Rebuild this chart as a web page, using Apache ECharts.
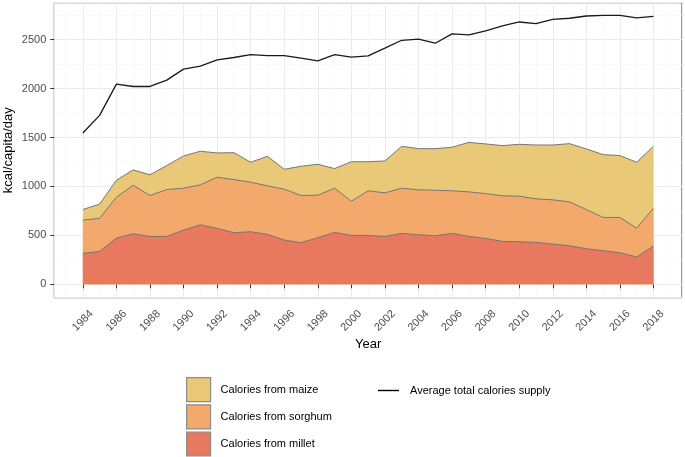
<!DOCTYPE html>
<html>
<head>
<meta charset="utf-8">
<script src="https://cdn.jsdelivr.net/npm/echarts@6/dist/echarts.min.js"></script>
<style>
html,body{margin:0;padding:0;background:#fff;}
#chart{width:685px;height:457px;}
</style>
</head>
<body>
<div id="chart"></div>
<script>
const years = [1984,1985,1986,1987,1988,1989,1990,1991,1992,1993,1994,1995,1996,1997,1998,1999,2000,2001,2002,2003,2004,2005,2006,2007,2008,2009,2010,2011,2012,2013,2014,2015,2016,2017,2018];
const millet = [316,336,472,516,489,489,554,608,571,527,537,510,452,425,476,530,499,499,489,520,506,496,520,489,469,438,435,428,411,394,363,343,323,279,391];
const sorghum = [340,337,418,496,418,479,428,408,523,543,506,496,520,482,434,452,350,456,445,462,459,465,435,455,458,466,465,445,452,448,401,340,360,295,387];
const maize = [108,146,173,157,211,245,329,343,248,275,204,302,203,299,316,200,403,297,326,428,421,425,445,506,507,513,530,550,560,595,619,642,632,673,632];
const totalSupply = [1546,1726,2045,2021,2021,2086,2198,2228,2293,2317,2347,2337,2337,2310,2283,2347,2320,2334,2412,2493,2504,2463,2558,2548,2589,2640,2680,2663,2707,2718,2741,2748,2748,2721,2738];

const names = {
  maize: 'Calories from maize',
  sorghum: 'Calories from sorghum',
  millet: 'Calories from millet',
  total: 'Average total calories supply'
};
const colors = { maize: '#E9C977', sorghum: '#F3A86C', millet: '#E8795F' };
const font = '"Liberation Sans", Arial, sans-serif';

// stacked tops (millet at bottom, then sorghum, then maize)
const milletTop = millet.slice();
const sorghumTop = millet.map((v, i) => v + sorghum[i]);
const maizeTop = sorghumTop.map((v, i) => v + maize[i]);

const pair = arr => years.map((y, i) => [y, arr[i]]);

function areaSeries(key, arr, z) {
  return {
    name: names[key], type: 'line', data: pair(arr), z: z,
    symbol: 'none', showSymbol: false,
    lineStyle: { color: '#767676', width: 1 },
    itemStyle: { color: colors[key] },
    areaStyle: { color: colors[key], opacity: 1, origin: 'auto' },
    emphasis: { disabled: true }
  };
}

const chart = echarts.init(document.getElementById('chart'), null, { renderer: 'canvas' });
chart.setOption({
  animation: false,
  backgroundColor: '#ffffff',
  textStyle: { fontFamily: font },
  grid: { left: 54.3, right: 3, top: 2.7, bottom: 159.3, show: true, borderColor: '#333333', borderWidth: 1, containLabel: false, outerBoundsMode: 'none' },
  xAxis: {
    type: 'value', min: 1982.3, max: 2019.7, splitNumber: 18,
    name: 'Year', nameLocation: 'middle', nameGap: 40, nameMoveOverlap: false,
    nameTextStyle: { fontSize: 13, color: '#000', fontFamily: font },
    axisLine: { show: false },
    axisTick: { show: true, length: 4, lineStyle: { color: '#333333' } },
    axisLabel: { rotate: 45, align: 'center', verticalAlign: 'middle', fontSize: 11, color: '#4D4D4D', margin: 23, showMinLabel: false, showMaxLabel: false, fontFamily: font, formatter: v => String(Math.round(v)) },
    splitLine: { show: true, lineStyle: { color: '#EBEBEB', width: 1 } },
    minorTick: { show: false, splitNumber: 2 },
    minorSplitLine: { show: true, lineStyle: { color: '#F5F5F5', width: 0.6 } }
  },
  yAxis: {
    type: 'value', min: -137, max: 2877, splitNumber: 6,
    name: 'kcal/capita/day', nameLocation: 'middle', nameGap: 39, nameMoveOverlap: false,
    nameTextStyle: { fontSize: 13, color: '#000', fontFamily: font },
    axisLine: { show: false },
    axisTick: { show: true, length: 4, lineStyle: { color: '#333333' } },
    axisLabel: { fontSize: 11, color: '#4D4D4D', margin: 8, showMinLabel: false, showMaxLabel: false, fontFamily: font, formatter: v => String(Math.round(v)) },
    splitLine: { show: true, lineStyle: { color: '#EBEBEB', width: 1 } },
    minorTick: { show: false, splitNumber: 2 },
    minorSplitLine: { show: true, lineStyle: { color: '#F5F5F5', width: 0.6 } }
  },
  legend: [
    {
      orient: 'vertical', left: 186, top: 377, padding: 0, itemWidth: 24, itemHeight: 24, itemGap: 2,
      icon: 'rect', selectedMode: false,
      textStyle: { fontSize: 11, color: '#000', fontFamily: font, padding: [0, 0, 0, 5] },
      data: ['maize', 'sorghum', 'millet'].map(k => ({
        name: names[k], icon: 'rect',
        itemStyle: { color: colors[k], borderColor: '#8C8C8C', borderWidth: 1.2 }
      }))
    },
    {
      orient: 'horizontal', left: 378, top: 385, padding: 0, itemWidth: 21, itemHeight: 1.4,
      selectedMode: false,
      textStyle: { fontSize: 11, color: '#000', fontFamily: font, padding: [0, 0, 0, 6] },
      data: [{ name: names.total, icon: 'rect', itemStyle: { color: '#000', borderWidth: 0 } }]
    }
  ],
  series: [
    areaSeries('maize', maizeTop, 2),
    areaSeries('sorghum', sorghumTop, 3),
    areaSeries('millet', milletTop, 4),
    {
      name: names.total, type: 'line', data: pair(totalSupply), z: 5,
      symbol: 'none', showSymbol: false,
      lineStyle: { color: '#1a1a1a', width: 1.3 },
      itemStyle: { color: '#000' },
      emphasis: { disabled: true }
    }
  ]
});
</script>
</body>
</html>
